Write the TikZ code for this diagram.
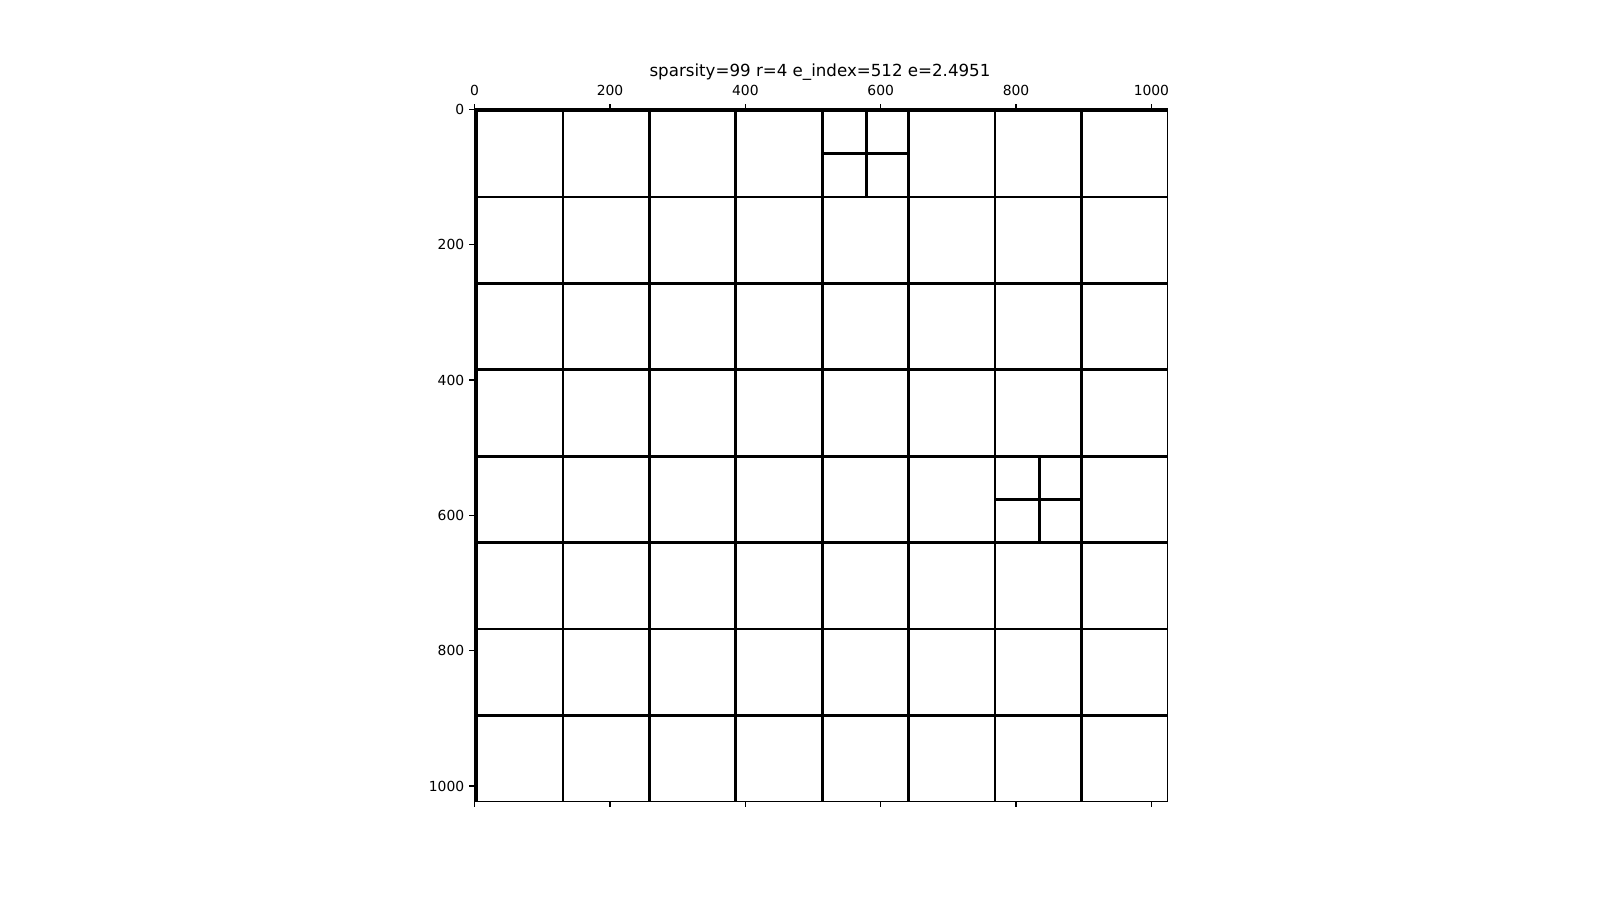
\documentclass[tikz,border=0pt]{standalone}
\usepackage{fontspec}
\setmainfont{DejaVu Sans}
\begin{document}
\begin{tikzpicture}[x=0.5pt,y=-0.5pt,line cap=butt,
  thickl/.style={line width=1.5pt,black},
  thinl/.style={line width=1.0pt,black},
  spine/.style={line width=0.56pt,black},
  tickmark/.style={line width=0.56pt,black},
  ticklab/.style={font=\fontsize{6.94pt}{8pt}\selectfont,inner sep=0pt},
  titlelab/.style={font=\fontsize{8.33pt}{10pt}\selectfont,inner sep=0pt},
]
\useasboundingbox (0,0) rectangle (1600,900);
\begin{scope}[shift={(0.8,0.9)}]
% block lines
\foreach \i/\s in {0/thickl,1/thinl,2/thickl,3/thickl,4/thickl,5/thickl,6/thinl,7/thickl}{
  \draw[\s] ({475.5+86.5*\i},108) -- ({475.5+86.5*\i},801);
  \draw[\s] (473.5,{109.5+86.5*\i}) -- (1166.5,{109.5+86.5*\i});
}
% sub-block lines
\draw[thickl] (865.5,108) -- (865.5,196);
\draw[thickl] (821.5,152.5) -- (908,152.5);
\draw[thickl] (1038.5,455.5) -- (1038.5,542);
\draw[thickl] (994.5,499) -- (1081,499);
% spines
\draw[spine] (473.5,108) rectangle (1166.5,801);
% ticks and labels
\foreach \v in {0,200,400,600,800,1000}{
  \pgfmathsetmacro{\px}{473.5+(\v+0.5)*0.67676}
  \pgfmathsetmacro{\py}{108+(\v+0.5)*0.67676}
  \draw[tickmark] (\px,108) -- (\px,103.14);
  \draw[tickmark] (\px,801) -- (\px,805.86);
  \draw[tickmark] (473.5,\py) -- (468.64,\py);
  \node[ticklab,anchor=base] (tx\v) at (\px,94.5) {\v};
  \node[ticklab,anchor=east] (ty\v) at (463.8,\py) {\v};
}
\end{scope}
\node[titlelab,anchor=base] (title) at (820,76.5) {sparsity=99 r=4 e\_index=512 e=2.4951};
\end{tikzpicture}
\end{document}
